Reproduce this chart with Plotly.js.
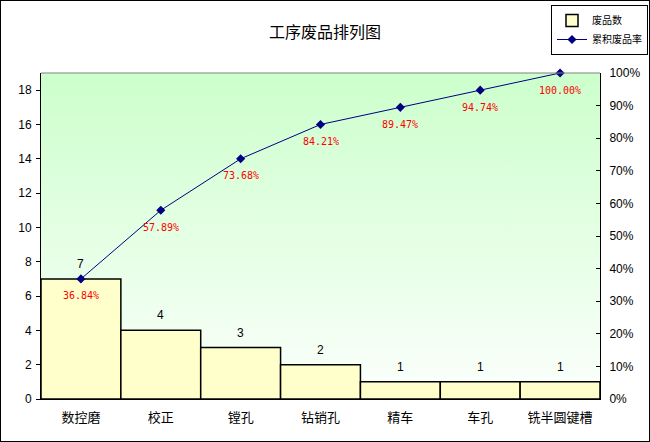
<!DOCTYPE html>
<html>
<head>
<meta charset="utf-8">
<script src="https://cdn.plot.ly/plotly-3.0.1.min.js"></script>
<style>
  body { margin: 0; background: #fff; }
  #chart { width: 648px; height: 440px; border: 1px solid #000; }
</style>
</head>
<body>
<div id="chart"></div>
<script>
// 工序废品数据
const processes = ['数控磨', '校正', '镗孔', '钻销孔', '精车', '车孔', '铣半圆键槽'];
const rejects = [7, 4, 3, 2, 1, 1, 1];
const cumPercent = [36.84, 57.89, 73.68, 84.21, 89.47, 94.74, 100.00];
const leftTicks = [0, 2, 4, 6, 8, 10, 12, 14, 16, 18];
const rightTicks = [0, 0.1, 0.2, 0.3, 0.4, 0.5, 0.6, 0.7, 0.8, 0.9, 1.0];

const font = 'Noto Sans CJK SC, sans-serif';
const numFont = 'Liberation Sans, Arial, sans-serif';

// green -> white gradient behind the plot area
const bgSvg = '<svg xmlns="http://www.w3.org/2000/svg" width="10" height="100" preserveAspectRatio="none">' +
    '<defs><linearGradient id="g" x1="0" y1="0" x2="0" y2="1">' +
    '<stop offset="0" stop-color="#ccffcc"/><stop offset="1" stop-color="#fcfffc"/>' +
    '</linearGradient></defs><rect width="10" height="100" fill="url(#g)"/></svg>';

const barTrace = {
    type: 'bar',
    name: '废品数',
    x: processes,
    y: rejects,
    marker: { color: '#ffffcc', line: { color: '#000', width: 1.5 } },
    hoverinfo: 'x+y'
};

const lineTrace = {
    type: 'scatter',
    mode: 'lines+markers',
    name: '累积废品率',
    x: processes,
    y: cumPercent.map(v => v / 100),
    yaxis: 'y2',
    cliponaxis: false,
    line: { color: '#000080', width: 1 },
    marker: { symbol: 'diamond', size: 7, color: '#000080' }
};

// value labels above the bars and under the line points
const annotations = [];
processes.forEach((p, i) => {
    annotations.push({
        x: p, y: rejects[i], xref: 'x', yref: 'y',
        text: String(rejects[i]), showarrow: false,
        yshift: 15, font: { family: numFont, size: 12, color: '#000' }
    });
    annotations.push({
        x: p, y: cumPercent[i] / 100, xref: 'x', yref: 'y2',
        text: cumPercent[i].toFixed(2) + '%', showarrow: false,
        yshift: -17, font: { family: 'DejaVu Sans Mono, monospace', size: 10, color: '#ff0000' }
    });
});

const layout = {
    width: 648,
    height: 440,
    margin: { l: 40, r: 49, t: 72, b: 42, autoexpand: false },
    paper_bgcolor: '#fff',
    plot_bgcolor: 'rgba(0,0,0,0)',
    font: { family: font, size: 12, color: '#000' },
    title: {
        text: '工序废品排列图',
        font: { family: font, size: 16, color: '#000' },
        x: 0.5, xanchor: 'center',
        y: 1 - 31 / 440, yanchor: 'middle'
    },
    bargap: 0,
    showlegend: true,
    legend: {
        xref: 'container', yref: 'container',
        x: 550 / 648, y: 1 - 4 / 440,
        xanchor: 'left', yanchor: 'top',
        bordercolor: '#000', borderwidth: 1,
        bgcolor: '#fff',
        font: { family: font, size: 10, color: '#000' },
        tracegroupgap: 0,
        itemwidth: 30
    },
    xaxis: {
        type: 'category',
        showgrid: false,
        showline: true, linecolor: '#000', linewidth: 1,
        ticks: 'outside', ticklen: 6, tickcolor: 'rgba(0,0,0,0)',
        tickfont: { family: font, size: 13, color: '#000' },
        fixedrange: true
    },
    yaxis: {
        range: [0, 19],
        tickvals: leftTicks,
        showgrid: false,
        zeroline: false,
        showline: true, linecolor: '#000', linewidth: 1,
        ticks: 'outside', ticklen: 4, tickcolor: '#000',
        tickfont: { family: numFont, size: 12, color: '#000' },
        ticklabelstandoff: 2,
        fixedrange: true
    },
    yaxis2: {
        overlaying: 'y',
        side: 'right',
        range: [0, 1],
        tickvals: rightTicks,
        tickformat: '.0%',
        showgrid: false,
        zeroline: false,
        showline: true, linecolor: '#000', linewidth: 1,
        ticks: 'inside', ticklen: 4, tickcolor: '#000',
        tickfont: { family: numFont, size: 12, color: '#000' },
        ticklabelstandoff: 6,
        fixedrange: true
    },
    annotations: annotations,
    images: [{
        source: 'data:image/svg+xml;charset=utf-8,' + encodeURIComponent(bgSvg),
        xref: 'paper', yref: 'paper',
        x: 0, y: 1, sizex: 1, sizey: 1,
        xanchor: 'left', yanchor: 'top',
        sizing: 'stretch',
        layer: 'below'
    }],
    shapes: [{
        type: 'line', xref: 'paper', yref: 'paper',
        x0: 0, x1: 1, y0: 1, y1: 1,
        line: { color: '#808080', width: 1 }
    }]
};

Plotly.newPlot('chart', [barTrace, lineTrace], layout, { displayModeBar: false, staticPlot: true });
</script>
</body>
</html>
